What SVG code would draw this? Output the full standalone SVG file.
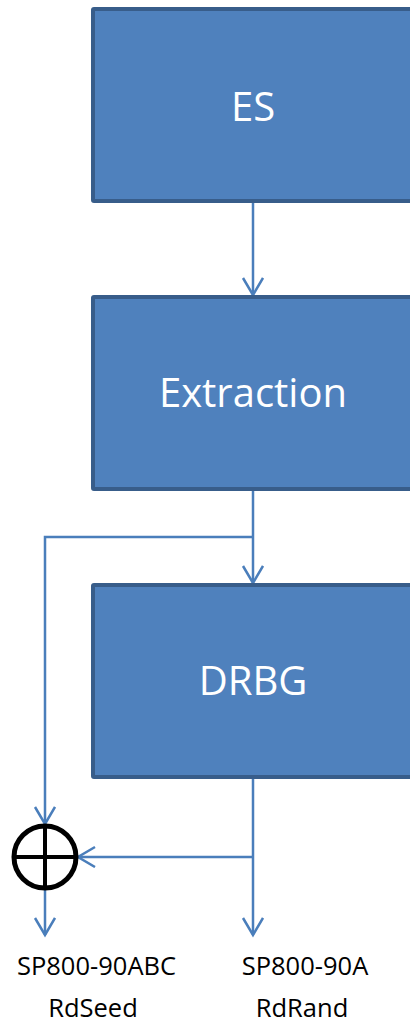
<svg xmlns="http://www.w3.org/2000/svg" width="410" height="1024" viewBox="0 0 410 1024">
<style>
.box{fill:#4F81BD;stroke:#385D8A;stroke-width:4}
.lbl{font-family:"Open Sans","Liberation Sans",sans-serif;font-size:40px;fill:#FFFFFF;text-anchor:middle}
.out{font-family:"Open Sans","Liberation Sans",sans-serif;font-size:25.5px;fill:#000000;text-anchor:middle}
.con{fill:none;stroke:#4A7EBB;stroke-width:2.5}
</style>
<defs>
<marker id="arr" markerUnits="userSpaceOnUse" markerWidth="24" markerHeight="26" refX="19" refY="11" orient="auto" viewBox="0 0 24 26">
<path d="M2,1 L19,11 L2,21" fill="none" stroke="#4A7EBB" stroke-width="2.5"/>
</marker>
</defs>
<rect width="410" height="1024" fill="#FFFFFF"/>
<g id="connectors">
<line class="con" x1="253" y1="203" x2="253" y2="295" marker-end="url(#arr)"/>
<line class="con" x1="253" y1="491" x2="253" y2="583" marker-end="url(#arr)"/>
<polyline class="con" points="253,537 45,537 45,824" marker-end="url(#arr)"/>
<line class="con" x1="253" y1="779" x2="253" y2="935" marker-end="url(#arr)"/>
<line class="con" x1="253" y1="857" x2="78" y2="857" marker-end="url(#arr)"/>
<line class="con" x1="45" y1="890" x2="45" y2="935" marker-end="url(#arr)"/>
</g>
<g id="es">
<rect class="box" x="93" y="9" width="340" height="192" rx="1"/>
<text class="lbl" x="253" y="121">ES</text>
</g>
<g id="extraction">
<rect class="box" x="93" y="297" width="340" height="192" rx="1"/>
<text class="lbl" x="253" y="407">Extraction</text>
</g>
<g id="drbg">
<rect class="box" x="93" y="585" width="340" height="192" rx="1"/>
<text class="lbl" x="253" y="695">DRBG</text>
</g>
<g id="xor">
<circle cx="45" cy="857" r="31" fill="none" stroke="#000000" stroke-width="5"/>
<line x1="14" y1="857" x2="76" y2="857" stroke="#000000" stroke-width="4"/>
<line x1="45" y1="826" x2="45" y2="888" stroke="#000000" stroke-width="4"/>
</g>
<g id="rdseed">
<text class="out" x="96.5" y="975">SP800-90ABC</text>
<text class="out" x="93" y="1017">RdSeed</text>
</g>
<g id="rdrand">
<text class="out" x="305" y="975">SP800-90A</text>
<text class="out" x="302" y="1017">RdRand</text>
</g>
</svg>
